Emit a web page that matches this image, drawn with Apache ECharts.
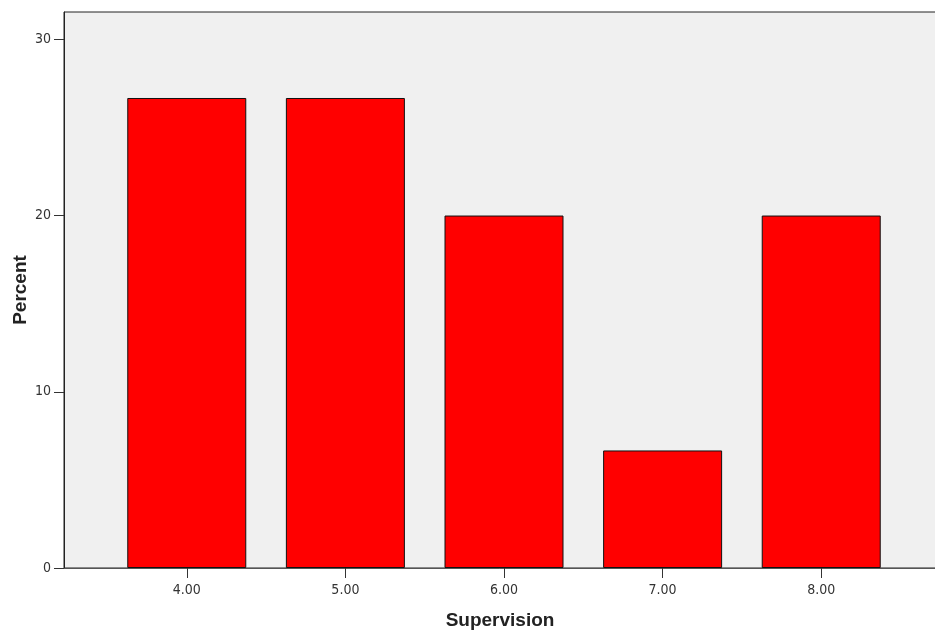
<!DOCTYPE html>
<html>
<head>
<meta charset="utf-8">
<script src="https://cdn.jsdelivr.net/npm/echarts@6/dist/echarts.min.js"></script>
<style>html,body{margin:0;padding:0;background:#fff}#c{width:935px;height:636px}</style>
</head>
<body>
<div id="c"></div>
<script>
const categories = [4, 5, 6, 7, 8];
const percents = [26.67, 26.67, 20.0, 6.67, 20.0];
const yTicks = [0, 10, 20, 30];

const chart = echarts.init(document.getElementById('c'), null, {renderer: 'canvas'});
const tickFont = '"DejaVu Sans Condensed", "Liberation Sans", sans-serif';
const nameFont = '"Liberation Sans", Arial, sans-serif';
chart.setOption({
  animation: false,
  grid: {
    left: 64, top: 12, width: 880, height: 556, outerBoundsMode: 'none',
    show: true, backgroundColor: '#f0f0f0', borderColor: '#222', borderWidth: 1
  },
  xAxis: {
    type: 'value', min: 3.226, max: 8.774,
    name: 'Supervision', nameLocation: 'middle', nameGap: 43, nameMoveOverlap: false,
    nameTextStyle: {fontFamily: nameFont, fontWeight: 'bold', fontSize: 19, color: '#222', padding: [0, 8, 0, 0]},
    axisLine: {show: true, lineStyle: {color: '#555', width: 1}},
    axisTick: {show: true, length: 10, lineStyle: {color: '#333'}, customValues: categories},
    axisLabel: {customValues: categories, margin: 15, fontFamily: tickFont, fontSize: 14, color: '#333',
      formatter: v => Number(v).toFixed(2)},
    splitLine: {show: false}
  },
  yAxis: {
    type: 'value', min: 0, max: 31.55,
    name: 'Percent', nameLocation: 'middle', nameGap: 34, nameMoveOverlap: false,
    nameTextStyle: {fontFamily: nameFont, fontWeight: 'bold', fontSize: 19, color: '#222'},
    axisLine: {show: true, lineStyle: {color: '#222', width: 1}},
    axisTick: {show: true, length: 10, lineStyle: {color: '#333'}, customValues: yTicks},
    axisLabel: {customValues: yTicks, margin: 13, fontFamily: tickFont, fontSize: 14, color: '#333'},
    splitLine: {show: false}
  },
  series: [{
    type: 'bar',
    data: categories.map((c, i) => [c, percents[i]]),
    barWidth: 119,
    itemStyle: {color: '#ff0000', borderColor: '#111', borderWidth: 1}
  }]
});
</script>
</body>
</html>
